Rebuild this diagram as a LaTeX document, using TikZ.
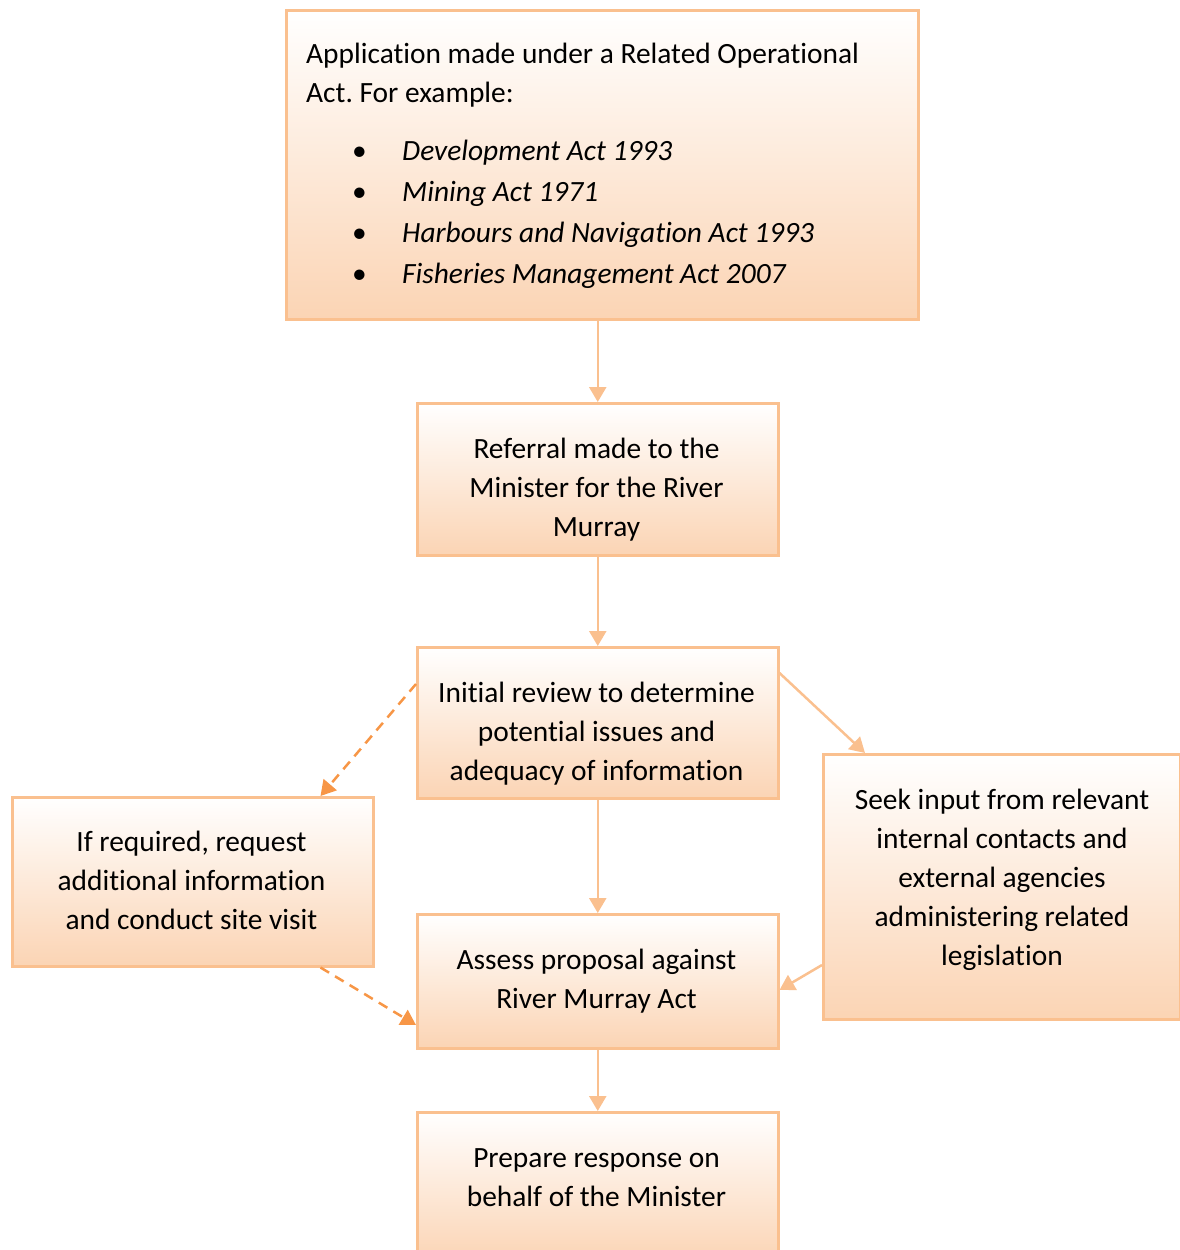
\documentclass[tikz,border=0pt]{standalone}
\usepackage{fontspec}
\setmainfont{Carlito}[Ligatures={NoCommon}]
\usetikzlibrary{arrows.meta,calc}
\definecolor{bordc}{RGB}{250,192,143}
\definecolor{fillc}{RGB}{251,212,180}
\definecolor{dashc}{RGB}{247,150,70}
\newcommand{\bxt}[1]{\parbox[t]{400pt}{\centering #1}}
\newcommand{\blt}{\makebox[50pt][l]{\textbullet}}
\frenchspacing
\begin{document}
\begin{tikzpicture}[x=1pt,y=-1pt,
 box/.style={draw=bordc, line width=2.5pt, top color=white, bottom color=fillc, anchor=north west, inner sep=0pt},
 txt/.style={anchor=base, inner sep=0pt, font=\fontsize{29.4}{39}\selectfont},
 flow/.style={draw=bordc, line width=2.5pt, -{Triangle[length=15pt,width=17pt]}},
 opt/.style={draw=dashc, line width=2.5pt, dash pattern=on 10pt off 7pt, -{Triangle[length=15pt,width=17pt]}}]
\useasboundingbox (0,0) rectangle (1180,1250);
% boxes
\node[box, minimum width=632pt, minimum height=309pt] (app) at (285,9) {};
\node[box, minimum width=361pt, minimum height=152pt] (ref) at (416,402) {};
\node[box, minimum width=361pt, minimum height=151pt] (rev) at (416,646) {};
\node[box, minimum width=361pt, minimum height=169pt] (req) at (11,796) {};
\node[box, minimum width=357pt, minimum height=265pt] (seek) at (822,753) {};
\node[box, minimum width=361pt, minimum height=134pt] (ass) at (416,913) {};
\node[box, minimum width=361pt, minimum height=150pt] (prep) at (416,1111) {};
% texts
\node[txt, anchor=base west] (appt) at (306,63) {\parbox[t]{600pt}{\raggedright Application made under a Related Operational\\Act. For example:}};
\node[txt, anchor=base west, font=\fontsize{29.4}{41}\selectfont] (list) at (352,160) {\parbox[t]{600pt}{\raggedright
 \blt\textit{Development Act 1993}\\
 \blt\textit{Mining Act 1971}\\
 \blt\textit{Harbours and Navigation Act 1993}\\
 \blt\textit{Fisheries Management Act 2007}}};
\node[txt] (reft) at (596.5,458) {\bxt{Referral made to the\\Minister for the River\\Murray}};
\node[txt] (revt) at (596.5,702) {\bxt{Initial review to determine\\potential issues and\\adequacy of information}};
\node[txt] (reqt) at (191.5,851) {\bxt{If required, request\\additional information\\and conduct site visit}};
\node[txt] (seekt) at (1002,809) {\bxt{Seek input from relevant\\internal contacts and\\external agencies\\administering related\\legislation}};
\node[txt] (asst) at (596.5,969) {\bxt{Assess proposal against\\River Murray Act}};
\node[txt] (prept) at (596.5,1167) {\bxt{Prepare response on\\behalf of the Minister}};
% connectors
\draw[flow] (app.south -| ref.north) -- (ref.north);
\draw[flow] (ref.south) -- (rev.north);
\draw[flow] (rev.south) -- (ass.north);
\draw[flow] (ass.south) -- (prep.north);
\draw[flow] ($(rev.north east)+(0,27)$) -- ($(seek.north west)+(43,0)$);
\draw[flow] ($(seek.north west)+(0,212)$) -- ($(ass.north east)+(0,77)$);
\draw[opt] ($(rev.north west)+(0,38)$) -- ($(req.north east)+(-54,0)$);
\draw[opt] ($(req.south east)+(-54,0)$) -- ($(ass.north west)+(0,112)$);
\end{tikzpicture}
\end{document}
